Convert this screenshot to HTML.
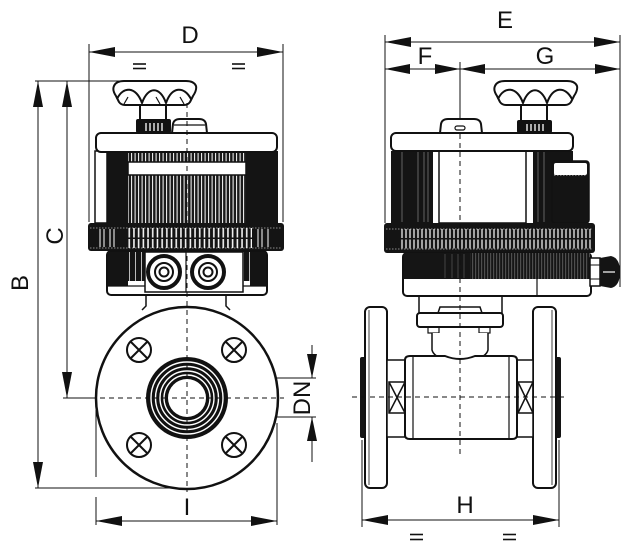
<!DOCTYPE html>
<html><head><meta charset="utf-8"><style>
html,body{margin:0;padding:0;background:#fff;}
svg{display:block;}
text{font-family:"Liberation Sans",Arial,sans-serif;fill:#111;}
</style></head><body>
<svg width="628" height="554" viewBox="0 0 628 554" xmlns="http://www.w3.org/2000/svg">
<defs>
<pattern id="grate" x="0" y="0" width="3.5" height="10" patternUnits="userSpaceOnUse">
<rect width="3.5" height="10" fill="#1a1a1a"/><rect x="1.6" width="1" height="10" fill="#fff"/>
</pattern>
<pattern id="grate2" x="0" y="0" width="6" height="10" patternUnits="userSpaceOnUse">
<rect width="6" height="10" fill="#141414"/><rect x="3" width="1" height="10" fill="#bbb"/>
</pattern>
<pattern id="ticks" x="0" y="228" width="4.7" height="20" patternUnits="userSpaceOnUse">
<rect width="4.7" height="20" fill="#141414"/><rect x="1.6" y="0" width="1.5" height="9.5" fill="#fff"/><rect x="1.6" y="11" width="1.5" height="9" fill="#fff"/>
</pattern>
<pattern id="ticks2" x="0" y="229" width="4" height="20" patternUnits="userSpaceOnUse">
<rect width="4" height="20" fill="#141414"/><rect x="1.4" y="0" width="1.2" height="9" fill="#fff"/><rect x="1.4" y="10.5" width="1.2" height="9" fill="#fff"/>
</pattern>
<pattern id="band" x="0" y="0" width="3" height="10" patternUnits="userSpaceOnUse">
<rect width="3" height="10" fill="#151515"/><rect x="1.5" width="0.6" height="10" fill="#888"/>
</pattern>
</defs>

<!-- ============ LEFT VIEW ============ -->
<g stroke="#111" stroke-width="1" fill="none">
<line x1="89" y1="52" x2="283" y2="52"/>
<line x1="89" y1="44" x2="89" y2="222"/>
<line x1="283" y1="44" x2="283" y2="222"/>
<line x1="35" y1="81" x2="187" y2="81"/>
<line x1="38" y1="81" x2="38" y2="488"/>
<line x1="67" y1="81" x2="67" y2="398"/>
<line x1="35" y1="488" x2="187" y2="488"/>
<line x1="63" y1="398" x2="96" y2="398"/>
<line x1="96" y1="521" x2="277" y2="521"/>
<line x1="96" y1="410" x2="96" y2="477"/>
<line x1="96" y1="497" x2="96" y2="525"/>
<line x1="277" y1="423" x2="277" y2="525"/>
<line x1="227" y1="378" x2="316" y2="378"/>
<line x1="227" y1="417" x2="316" y2="417"/>
<line x1="312" y1="345" x2="312" y2="378"/>
<line x1="312" y1="417" x2="312" y2="462"/>
<line x1="133" y1="64" x2="146" y2="64" stroke-width="1.6"/>
<line x1="133" y1="68.5" x2="146" y2="68.5" stroke-width="1.6"/>
<line x1="232" y1="64" x2="245" y2="64" stroke-width="1.6"/>
<line x1="232" y1="68.5" x2="245" y2="68.5" stroke-width="1.6"/>
</g>
<g fill="#111">
<polygon points="89,52 115,47 115,57"/>
<polygon points="283,52 257,47 257,57"/>
<polygon points="38,81 33,107 43,107"/>
<polygon points="38,488 33,462 43,462"/>
<polygon points="67,81 62,107 72,107"/>
<polygon points="67,398 62,372 72,372"/>
<polygon points="96,521 122,516 122,526"/>
<polygon points="277,521 251,516 251,526"/>
<polygon points="312,378 307,354 317,354"/>
<polygon points="312,417 307,441 317,441"/>
</g>
<text x="190" y="43" font-size="24" text-anchor="middle">D</text>
<text x="187" y="515" font-size="24" text-anchor="middle">I</text>
<text transform="translate(28,283) rotate(-90)" font-size="24" text-anchor="middle">B</text>
<text transform="translate(63,236) rotate(-90)" font-size="24" text-anchor="middle">C</text>
<text transform="translate(310,398) rotate(-90)" font-size="24" text-anchor="middle">DN</text>

<!-- knob left -->
<g stroke="#111" stroke-width="2" fill="#fff" stroke-linejoin="round">
<rect x="140" y="104" width="26" height="16"/>
<path d="M116,96 Q112,90 114,86 Q116,81 124,81 L186,81 Q194,81 196,86 Q197,90 193,96 L190,102 Q188,105 184,105 L125,105 Q121,105 119,102 Z"/>
<path d="M117,99 C123,86 136,86 142,103 C148,86 160,86 166,103 C172,86 184,86 191,99" fill="none"/>
<path d="M124,104 L128,97 M160,104 L156,97 M184,104 L180,97" fill="none" stroke-width="1.2"/>
<path d="M172,133 L173,124 Q174,119 180,119 L199,119 Q205,119 206,124 L207,133 Z"/>
<line x1="174" y1="125" x2="205" y2="125" stroke-width="1.2"/>
</g>
<rect x="136" y="119" width="35" height="14" rx="2" fill="#111"/>
<g stroke="#fff" stroke-width="1.3"><line x1="146" y1="123" x2="146" y2="131"/><line x1="150" y1="123" x2="150" y2="131"/><line x1="154" y1="123" x2="154" y2="131"/><line x1="158" y1="123" x2="158" y2="131"/><line x1="162" y1="123" x2="162" y2="131"/></g>

<!-- actuator body left -->
<rect x="107" y="151" width="171" height="72" fill="#141414"/>
<rect x="128" y="151" width="118" height="72" fill="url(#grate)"/>
<rect x="128" y="162" width="118" height="13" fill="#fff" stroke="#111" stroke-width="1.5"/>
<rect x="95" y="151" width="12" height="72" fill="#fff" stroke="#111" stroke-width="1.5"/>
<rect x="96" y="133" width="181" height="19" rx="5" fill="#fff" stroke="#111" stroke-width="2"/>
<!-- ring -->
<rect x="88" y="223" width="196" height="28" rx="3" fill="#141414"/>
<rect x="128" y="228" width="124" height="20" fill="url(#ticks)"/>
<g stroke="#fff" stroke-width="1"><line x1="100" y1="229" x2="100" y2="247"/><line x1="104" y1="229" x2="104" y2="247"/><line x1="110" y1="229" x2="110" y2="247"/><line x1="114" y1="229" x2="114" y2="247"/><line x1="258" y1="229" x2="258" y2="247"/><line x1="262" y1="229" x2="262" y2="247"/><line x1="268" y1="229" x2="268" y2="247"/></g>
<line x1="90" y1="228" x2="282" y2="228" stroke="#fff" stroke-width="0.6" stroke-dasharray="1.5,1.5"/>
<line x1="90" y1="248" x2="282" y2="248" stroke="#fff" stroke-width="0.6" stroke-dasharray="1.5,1.5"/>
<!-- lower body -->
<rect x="107" y="251" width="160" height="44" rx="4" fill="#fff" stroke="#111" stroke-width="2"/>
<rect x="108" y="252" width="37" height="29" fill="url(#grate2)"/>
<rect x="243" y="252" width="23" height="29" fill="url(#grate2)"/>
<rect x="108" y="252" width="20" height="34" fill="#141414"/>
<rect x="250" y="252" width="16" height="34" fill="#141414"/>
<line x1="107" y1="286" x2="267" y2="286" stroke="#111" stroke-width="1.2"/>
<rect x="145" y="252" width="98" height="40" fill="#fff" stroke="#111" stroke-width="1.5"/>
<g fill="#fff" stroke="#111">
<circle cx="164" cy="272" r="16" stroke-width="4"/>
<circle cx="164" cy="272" r="9" stroke-width="2"/>
<circle cx="164" cy="272" r="4.5" stroke-width="2"/>
<circle cx="208" cy="272" r="16" stroke-width="4"/>
<circle cx="208" cy="272" r="9" stroke-width="2"/>
<circle cx="208" cy="272" r="4.5" stroke-width="2"/>
</g>
<line x1="186" y1="252" x2="186" y2="292" stroke="#111" stroke-width="1.2"/>
<!-- bracket -->
<g stroke="#111" stroke-width="1.5" fill="none">
<path d="M146,295 L146,306 L142,310"/>
<path d="M226,295 L226,306 L230,310"/>
</g>
<!-- flange -->
<circle cx="187" cy="398" r="91" fill="#fff" stroke="#111" stroke-width="2.5"/>
<g stroke="#111" stroke-width="2" fill="#fff">
<circle cx="139" cy="350" r="12"/><circle cx="234" cy="350" r="12"/>
<circle cx="139" cy="445" r="12"/><circle cx="234" cy="445" r="12"/>
</g>
<g stroke="#111" stroke-width="2">
<path d="M131,342 L147,358 M147,342 L131,358"/>
<path d="M226,342 L242,358 M242,342 L226,358"/>
<path d="M131,437 L147,453 M147,437 L131,453"/>
<path d="M226,437 L242,453 M242,437 L226,453"/>
</g>
<circle cx="187" cy="398" r="41" fill="#111"/>
<g fill="none" stroke="#fff" stroke-width="1.4">
<circle cx="187" cy="398" r="36"/><circle cx="187" cy="398" r="31.5"/><circle cx="187" cy="398" r="27"/><circle cx="187" cy="398" r="23"/>
</g>
<circle cx="187" cy="398" r="19" fill="#fff"/>
<g stroke="#111" stroke-width="1" stroke-dasharray="5,4" fill="none">
<line x1="187" y1="103" x2="187" y2="492"/>
<line x1="100" y1="398" x2="284" y2="398"/>
</g>

<!-- ============ RIGHT VIEW ============ -->
<g stroke="#111" stroke-width="1" fill="none">
<line x1="385" y1="42" x2="620" y2="42"/>
<line x1="385" y1="69" x2="620" y2="69"/>
<line x1="385" y1="35" x2="385" y2="223"/>
<line x1="620" y1="35" x2="620" y2="287"/>
<line x1="460" y1="62" x2="460" y2="134"/>
<line x1="362" y1="520" x2="559" y2="520"/>
<line x1="362" y1="440" x2="362" y2="527"/>
<line x1="559" y1="440" x2="559" y2="527"/>
<line x1="410" y1="534.5" x2="423" y2="534.5" stroke-width="1.6"/>
<line x1="410" y1="539.5" x2="423" y2="539.5" stroke-width="1.6"/>
<line x1="503" y1="534.5" x2="516" y2="534.5" stroke-width="1.6"/>
<line x1="503" y1="539.5" x2="516" y2="539.5" stroke-width="1.6"/>
</g>
<g fill="#111">
<polygon points="385,42 411,37 411,47"/>
<polygon points="620,42 594,37 594,47"/>
<polygon points="385,69 410,64 410,74"/>
<polygon points="460,69 435,64 435,74"/>
<polygon points="460,69 485,64 485,74"/>
<polygon points="620,69 595,64 595,74"/>
<polygon points="362,520 388,515 388,525"/>
<polygon points="559,520 533,515 533,525"/>
</g>
<text x="505" y="28" font-size="24" text-anchor="middle">E</text>
<text x="425" y="64" font-size="24" text-anchor="middle">F</text>
<text x="545" y="64" font-size="24" text-anchor="middle">G</text>
<text x="465" y="513" font-size="24" text-anchor="middle">H</text>

<!-- knob right -->
<g transform="translate(381,0)">
<g stroke="#111" stroke-width="2" fill="#fff" stroke-linejoin="round">
<rect x="140" y="104" width="26" height="17"/>
<path d="M116,96 Q112,90 114,86 Q116,81 124,81 L186,81 Q194,81 196,86 Q197,90 193,96 L190,102 Q188,105 184,105 L125,105 Q121,105 119,102 Z"/>
<path d="M117,99 C123,86 136,86 142,103 C148,86 160,86 166,103 C172,86 184,86 191,99" fill="none"/>
</g>
<rect x="136" y="120" width="35" height="13" rx="2" fill="#111"/>
<g stroke="#fff" stroke-width="1.3"><line x1="146" y1="124" x2="146" y2="131"/><line x1="150" y1="124" x2="150" y2="131"/><line x1="154" y1="124" x2="154" y2="131"/><line x1="158" y1="124" x2="158" y2="131"/><line x1="162" y1="124" x2="162" y2="131"/></g>
</g>
<g stroke="#111" stroke-width="2" fill="#fff">
<path d="M440,133 L441,124 Q442,119 448,119 L474,119 Q480,119 481,124 L482,133 Z"/>
</g>
<rect x="455" y="126" width="10" height="4" rx="2" fill="none" stroke="#111" stroke-width="1.2"/>

<!-- actuator body right -->
<rect x="391" y="151" width="42" height="72" fill="#141414"/>
<g stroke="#777" stroke-width="0.8"><line x1="402" y1="152" x2="402" y2="222"/><line x1="418" y1="152" x2="418" y2="222"/><line x1="424" y1="152" x2="424" y2="222"/><line x1="428" y1="152" x2="428" y2="222"/></g>
<rect x="439" y="151" width="87" height="72" fill="#fff" stroke="#111" stroke-width="1.5"/>
<rect x="533" y="151" width="40" height="72" fill="#141414"/>
<g stroke="#777" stroke-width="0.8"><line x1="538" y1="152" x2="538" y2="222"/><line x1="544" y1="152" x2="544" y2="222"/></g>
<rect x="552" y="161" width="37" height="62" rx="3" fill="#141414" stroke="#111" stroke-width="1.5"/>
<rect x="554" y="163" width="33" height="12" rx="2" fill="#fff"/>
<line x1="554" y1="175" x2="587" y2="175" stroke="#fff" stroke-width="0.8" stroke-dasharray="1.5,1.5"/>
<rect x="391" y="133" width="182" height="18" rx="5" fill="#fff" stroke="#111" stroke-width="2"/>
<!-- ring right -->
<rect x="384" y="223" width="211" height="30" rx="3" fill="#141414"/>
<rect x="400" y="229" width="192" height="19.5" fill="url(#ticks2)"/>
<line x1="386" y1="229" x2="593" y2="229" stroke="#fff" stroke-width="0.6" stroke-dasharray="1.5,1.5"/>
<line x1="386" y1="249" x2="593" y2="249" stroke="#fff" stroke-width="0.6" stroke-dasharray="1.5,1.5"/>
<!-- lower band right -->
<rect x="403" y="253" width="188" height="43" rx="4" fill="#fff" stroke="#111" stroke-width="2"/>
<rect x="404" y="253" width="186" height="26" fill="url(#band)"/>
<rect x="404" y="253" width="66" height="26" fill="#151515"/>
<g stroke="#666" stroke-width="0.6"><line x1="445" y1="254" x2="445" y2="278"/><line x1="452" y1="254" x2="452" y2="278"/><line x1="458" y1="254" x2="458" y2="278"/><line x1="464" y1="254" x2="464" y2="278"/></g>
<line x1="537" y1="279" x2="537" y2="296" stroke="#111" stroke-width="1.2"/>
<!-- gland right -->
<rect x="590" y="258" width="10" height="28" fill="#fff" stroke="#111" stroke-width="1.5"/>
<line x1="590" y1="265" x2="600" y2="265" stroke="#111" stroke-width="1"/>
<line x1="590" y1="279" x2="600" y2="279" stroke="#111" stroke-width="1"/>
<path d="M600,258 L611,256 Q620,258 620,272 Q620,286 611,288 L600,286 Z" fill="#141414"/>
<line x1="603" y1="272" x2="615" y2="272" stroke="#fff" stroke-width="1.2"/>

<!-- valve right -->
<g stroke="#111" stroke-width="1.5" fill="#fff">
<line x1="419" y1="296" x2="419" y2="313"/>
<line x1="502" y1="296" x2="502" y2="313"/>
<path d="M438,313 L440,307 L480,307 L482,313" fill="none"/>
<rect x="428" y="327" width="11" height="6" stroke-width="1.2"/>
<rect x="479" y="327" width="11" height="6" stroke-width="1.2"/>
</g>
<rect x="417" y="313" width="86" height="14" rx="3" fill="#fff" stroke="#111" stroke-width="2"/>
<path d="M432,333 L432,350 Q434,357 445,359 Q460,362 475,359 Q486,357 488,350 L488,333" fill="#fff" stroke="#111" stroke-width="1.5"/>
<rect x="360" y="357" width="6" height="81" rx="2" fill="#141414"/>
<rect x="555" y="357" width="6" height="81" rx="2" fill="#141414"/>
<rect x="365" y="307" width="22" height="181" rx="5" fill="#fff" stroke="#111" stroke-width="2"/>
<rect x="533" y="307" width="23" height="181" rx="5" fill="#fff" stroke="#111" stroke-width="2"/>
<line x1="369" y1="310" x2="369" y2="485" stroke="#111" stroke-width="0.8"/>
<line x1="552" y1="310" x2="552" y2="485" stroke="#111" stroke-width="0.8"/>
<rect x="387" y="360" width="18" height="77" fill="#fff" stroke="#111" stroke-width="1.5"/>
<rect x="517" y="360" width="16" height="77" fill="#fff" stroke="#111" stroke-width="1.5"/>
<g stroke="#111" stroke-width="1.5" fill="none">
<rect x="389" y="382" width="16" height="31"/>
<path d="M389,382 L405,413 M405,382 L389,413"/>
<rect x="518" y="382" width="15" height="31"/>
<path d="M518,382 L533,413 M533,382 L518,413"/>
</g>
<path d="M405,360 Q405,356 410,356 L445,356 Q460,362 475,356 L512,356 Q517,356 517,360 L517,435 Q517,439 512,439 L410,439 Q405,439 405,435 Z" fill="#fff" stroke="#111" stroke-width="2"/>
<line x1="413" y1="357" x2="413" y2="438" stroke="#111" stroke-width="1.2"/>
<line x1="509" y1="357" x2="509" y2="438" stroke="#111" stroke-width="1.2"/>
<g stroke="#111" stroke-width="1" stroke-dasharray="5,4" fill="none">
<line x1="460" y1="134" x2="460" y2="458"/>
<line x1="352" y1="397" x2="566" y2="397"/>
</g>
</svg>
</body></html>
